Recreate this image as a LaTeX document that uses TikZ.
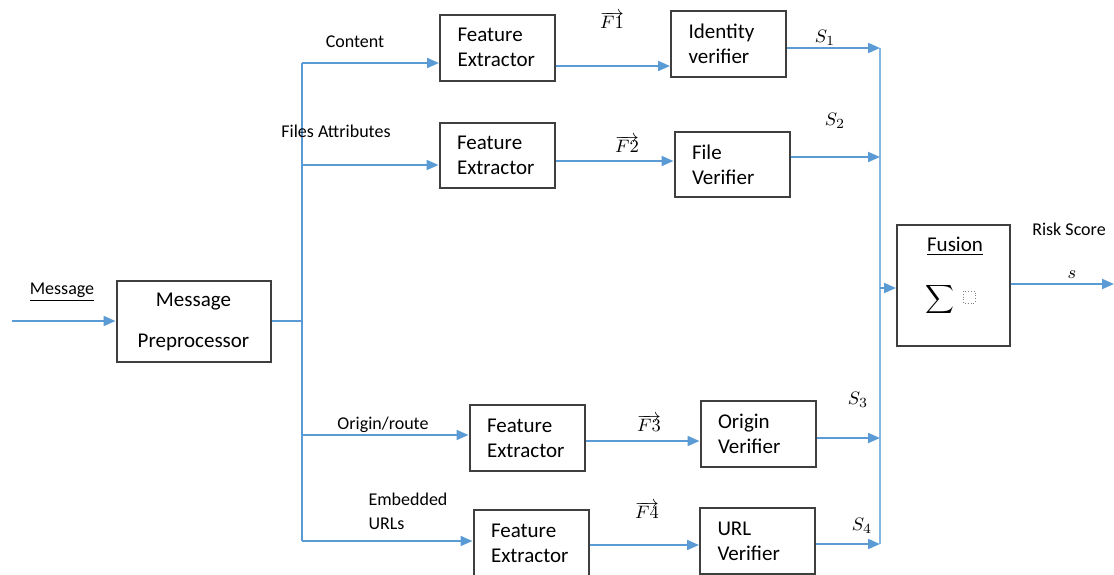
\documentclass[tikz,border=0pt]{standalone}
\usepackage{fontspec}
\setmainfont{Carlito}
\usetikzlibrary{arrows.meta}

\definecolor{flowblue}{HTML}{5B9BD5}
\definecolor{boxgray}{HTML}{3F3F3F}

\tikzset{
  blk/.style={draw=boxgray, line width=1pt, minimum width=57.5pt, minimum height=33pt,
              text width=40pt, align=left, inner xsep=8.5pt, font=\fontsize{10.5}{12.5}\selectfont},
  flow/.style={flowblue, line width=1pt, -{Triangle[length=6pt,width=5pt]}},
  link/.style={flowblue, line width=1pt},
  busline/.style={flowblue!75, line width=1.2pt},
  lbl/.style={font=\fontsize{9}{11}\selectfont, inner sep=0pt},
  vec/.style={font=\fontsize{9.5}{11}\selectfont, inner sep=0pt}
}

\begin{document}
\begin{tikzpicture}[x=0.5pt, y=-0.5pt]
  \useasboundingbox (0,0) rectangle (1114,574);

  % blocks
  \node[blk, minimum width=73.5pt, minimum height=40.5pt, text width=60pt, align=center] (pre) at (193.5,321.5)
    {Message\\[8pt]Preprocessor};
  \node[blk] (fe1) at (497.5,47.5) {Feature\\Extractor};
  \node[blk] (iv) at (728.5,44) {Identity\\verifier};
  \node[blk, minimum height=32.5pt] (fe2) at (497,155.5) {Feature\\Extractor};
  \node[blk, minimum height=32.5pt] (fv) at (732,164.5) {File\\Verifier};
  \node[blk] (fe3) at (527,438) {Feature\\Extractor};
  \node[blk] (ov) at (758,434) {Origin\\Verifier};
  \node[blk] (fe4) at (531,543) {Feature\\Extractor};
  \node[blk] (uv) at (757.5,541) {URL\\Verifier};
  \node[draw=boxgray, line width=1pt, minimum width=56.5pt, minimum height=60.5pt] (fus) at (953.5,285.5) {};

  % inside fusion
  \node[font=\fontsize{10.5}{12}\selectfont, inner sep=0pt] (fusname) at (955,246) {\underline{Fusion}};
  \node[font=\fontsize{12}{14}\selectfont, inner sep=0pt] (sig) at (940,299) {$\displaystyle\sum$};
  \draw[densely dotted, gray, thin] (963,291) rectangle (975,303);

  % coordinates of the trunk and the bus
  \coordinate (in) at (12,321);
  \coordinate (split) at (302,321);
  \coordinate (t1) at (302,63);
  \coordinate (t2) at (302,165);
  \coordinate (t3) at (302,435);
  \coordinate (t4) at (302,541);
  \coordinate (b1) at (880,48);
  \coordinate (b2) at (880,157);
  \coordinate (b3) at (880,438);
  \coordinate (b4) at (880,544);
  \coordinate (bus) at (880,288);
  \coordinate (out) at (1114,284);

  % input and trunk
  \draw[flow] (in) -- (in -| pre.west);
  \draw[link] (pre.east |- split) -- (split);
  \draw[link] (t1) -- (t4);
  \draw[flow] (t1) -- (t1 -| fe1.west);
  \draw[flow] (t2) -- (t2 -| fe2.west);
  \draw[flow] (t3) -- (t3 -| fe3.west);
  \draw[flow] (t4) -- (t4 -| fe4.west);

  % features to verifiers
  \draw[flow] (fe1.east |- 0,66) -- (iv.west |- 0,66);
  \draw[flow] (fe2.east |- 0,161) -- (fv.west |- 0,161);
  \draw[flow] (fe3.east |- 0,441) -- (ov.west |- 0,441);
  \draw[flow] (fe4.east |- 0,545) -- (uv.west |- 0,545);

  % scores to the bus
  \draw[busline] (b1) -- (b4);
  \draw[flow] (iv.east |- b1) -- (b1);
  \draw[flow] (fv.east |- b2) -- (b2);
  \draw[flow] (ov.east |- b3) -- (b3);
  \draw[flow] (uv.east |- b4) -- (b4);
  \draw[flow] (bus) -- (bus -| fus.west);
  \draw[flow] (fus.east |- out) -- (out);

  % labels
  \node[lbl] (lmsg) at (62,292) {\underline{Message}};
  \node[lbl] (lcont) at (355,42) {Content};
  \node[lbl] (lfile) at (336,131) {Files Attributes};
  \node[lbl] (lorig) at (383,425) {Origin/route};
  \node[lbl, align=left] (lurl) at (408,511) {Embedded\\[1pt]URLs};
  \node[lbl] (lrisk) at (1069,229) {Risk Score};

  \node[vec] (f1) at (612,20) {$\overrightarrow{F1}$};
  \node[vec] (f2) at (627,144) {$\overrightarrow{F2}$};
  \node[vec] (f3) at (649,423) {$\overrightarrow{F3}$};
  \node[vec] (f4) at (647,510) {$\overrightarrow{F4}$};

  \node[vec] (s1) at (825,38) {$S_1$};
  \node[vec] (s2) at (835,121) {$S_2$};
  \node[vec] (s3) at (858,400) {$S_3$};
  \node[vec] (s4) at (862,526) {$S_4$};
  \node[vec] (sout) at (1072,275) {$s$};
\end{tikzpicture}
\end{document}
